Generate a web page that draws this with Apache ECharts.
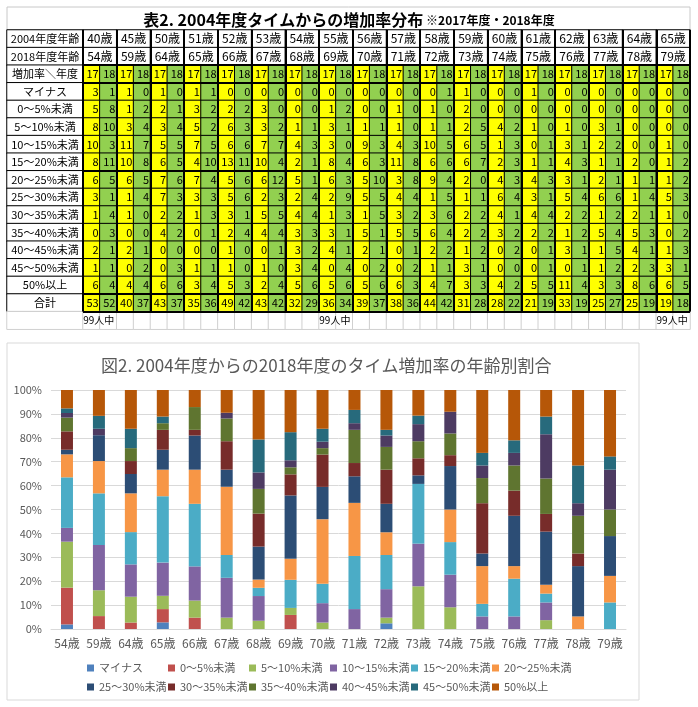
<!DOCTYPE html>
<html>
<head>
<meta charset="utf-8">
<script src="https://cdn.jsdelivr.net/npm/echarts@6/dist/echarts.min.js"></script>
<style>
html, body { margin: 0; padding: 0; background: #fff; }
#main { width: 698px; height: 707px; }
</style>
</head>
<body>
<div id="main"></div>
<script>
// 年齢
const ages2004 = [40, 45, 50, 51, 52, 53, 54, 55, 56, 57, 58, 59, 60, 61, 62, 63, 64, 65]
const ages2018 = [54, 59, 64, 65, 66, 67, 68, 69, 70, 71, 72, 73, 74, 75, 76, 77, 78, 79]
const years = ['17', '18']
const ranges = ['マイナス', '0〜5%未満', '5〜10%未満', '10〜15%未満', '15〜20%未満', '20〜25%未満',
    '25〜30%未満', '30〜35%未満', '35〜40%未満', '40〜45%未満', '45〜50%未満', '50%以上']
const yTicks = [0, 10, 20, 30, 40, 50, 60, 70, 80, 90, 100]

// 人数 2017年度 (行=増加率, 列=年齢)
const count17 = [
    [3, 1, 1, 1, 0, 0, 0, 0, 0, 0, 0, 1, 0, 1, 0, 0, 0, 0],
    [5, 1, 2, 3, 2, 3, 0, 1, 0, 1, 1, 2, 0, 0, 0, 0, 0, 0],
    [8, 3, 3, 5, 6, 3, 1, 3, 1, 1, 1, 2, 4, 1, 1, 3, 0, 0],
    [10, 11, 5, 7, 6, 7, 4, 3, 9, 4, 10, 6, 1, 0, 3, 2, 0, 1],
    [8, 10, 6, 4, 13, 10, 2, 8, 6, 11, 6, 6, 2, 1, 4, 1, 2, 1],
    [6, 6, 7, 7, 5, 6, 5, 6, 5, 3, 9, 2, 4, 4, 3, 2, 1, 1],
    [3, 1, 7, 3, 5, 2, 2, 2, 5, 4, 1, 1, 6, 3, 5, 6, 1, 5],
    [1, 1, 2, 1, 3, 5, 4, 1, 1, 3, 3, 2, 4, 4, 2, 1, 2, 1],
    [0, 0, 4, 0, 2, 4, 3, 3, 5, 5, 6, 2, 3, 2, 1, 5, 5, 0],
    [2, 2, 0, 0, 1, 0, 3, 4, 2, 0, 2, 1, 0, 0, 3, 1, 4, 1],
    [1, 0, 0, 1, 1, 1, 3, 0, 0, 0, 1, 3, 0, 0, 0, 1, 2, 3],
    [6, 4, 6, 3, 5, 2, 5, 5, 5, 6, 4, 3, 4, 5, 11, 3, 8, 6],
]
// 人数 2018年度
const count18 = [
    [1, 0, 0, 1, 0, 0, 0, 0, 0, 0, 1, 0, 0, 0, 0, 0, 0, 0],
    [8, 2, 1, 2, 2, 0, 0, 2, 0, 0, 0, 0, 0, 0, 0, 0, 0, 0],
    [10, 4, 4, 2, 3, 2, 1, 1, 1, 0, 1, 5, 2, 0, 0, 1, 0, 0],
    [3, 7, 5, 5, 6, 7, 3, 0, 3, 3, 5, 5, 3, 1, 1, 2, 0, 0],
    [11, 8, 5, 10, 11, 4, 1, 4, 3, 8, 6, 7, 3, 1, 3, 1, 0, 2],
    [5, 5, 6, 4, 6, 12, 1, 3, 10, 8, 4, 0, 3, 3, 1, 1, 1, 2],
    [1, 4, 3, 3, 6, 3, 4, 9, 5, 4, 5, 1, 4, 1, 4, 6, 4, 3],
    [4, 0, 2, 3, 1, 5, 4, 3, 5, 2, 6, 2, 1, 4, 2, 2, 1, 0],
    [3, 0, 2, 1, 4, 4, 3, 1, 1, 5, 4, 2, 2, 2, 2, 4, 3, 2],
    [1, 1, 0, 0, 0, 1, 2, 1, 1, 1, 2, 2, 2, 1, 1, 5, 1, 3],
    [1, 2, 3, 1, 0, 0, 4, 4, 2, 2, 1, 1, 0, 1, 1, 2, 3, 1],
    [4, 4, 6, 4, 3, 4, 6, 6, 6, 3, 7, 3, 2, 5, 4, 3, 6, 5],
]
const noteCols = [0, 14, 34] // 「99人中」の列

const colors = ['#4F81BD', '#C0504D', '#9BBB59', '#8064A2', '#4BACC6', '#F79646',
    '#2C4D75', '#772C2A', '#5F7530', '#4D3B62', '#276A7C', '#B65708']

function sumCols(rows) {
    return rows[0].map((_, a) => rows.reduce((s, r) => s + r[a], 0))
}
const total17 = sumCols(count17)
const total18 = sumCols(count18)

const RH = 17.6
const TOP = 30
const FONT = 'Noto Sans CJK JP'

function hiddenCat(gridIndex, n, inverse) {
    return {
        type: 'category', gridIndex: gridIndex, inverse: !!inverse,
        data: Array.from({ length: n }, (_, i) => i),
        show: false,
    }
}

function lineCat(gridIndex, n, inverse, interval) {
    return {
        type: 'category', gridIndex: gridIndex, inverse: !!inverse, z: 5,
        data: Array.from({ length: n }, (_, i) => i),
        axisLine: { show: false }, axisTick: { show: false }, axisLabel: { show: false },
        splitLine: { show: true, interval: interval, lineStyle: { color: '#000', width: 2 } },
    }
}

function getOptions() {
    // 左の見出し列
    const rowNames = ['2004年度年齢', '2018年度年齢', '増加率＼年度'].concat(ranges.map(r => r.replace('〜', '～')), ['合計', ''])
    const labelData = rowNames.map((n, i) => ({
        value: [0, i, 0], name: n,
        itemStyle: i === rowNames.length - 1 ? { borderColor: '#d0d0d0' } : undefined,
    }))

    // 年齢見出し
    const headData = []
    ages2004.forEach((a, i) => {
        headData.push({ value: [i, 0, 0], name: a + '歳' })
        headData.push({ value: [i, 1, 0], name: ages2018[i] + '歳' })
    })

    // 本体
    const bodyData = []
    ages2018.forEach((_, a) => {
        [count17, count18].forEach((counts, y) => {
            const col = a * 2 + y
            const color = y === 0 ? '#FFFF00' : '#92D050'
            const tot = y === 0 ? total17 : total18
            bodyData.push({ value: [col, 0, +years[y]], itemStyle: { color } })
            counts.forEach((row, r) => {
                bodyData.push({ value: [col, r + 1, row[a]], itemStyle: { color } })
            })
            bodyData.push({ value: [col, 13, tot[a]], itemStyle: { color } })
        })
    })

    const noteData = Array.from({ length: 36 }, (_, c) => ({
        value: [c, 0, 0], name: noteCols.includes(c) ? '99人中' : '',
    }))

    const cellBase = {
        type: 'heatmap',
        emphasis: { disabled: true },
        itemStyle: { color: '#fff', borderColor: '#000', borderWidth: 1 },
        label: { show: true, color: '#000', fontSize: 11, fontFamily: FONT },
    }

    const barSeries = ranges.map((name, r) => ({
        type: 'bar', name: name, stack: 'total',
        xAxisIndex: 4, yAxisIndex: 4,
        barWidth: 12,
        itemStyle: { color: colors[r] },
        data: count18[r].map((v, a) => v / total18[a] * 100),
    }))

    return {
        animation: false,
        textStyle: { fontFamily: FONT },
        title: [
            {
                text: '{a|表2. 2004年度タイムからの増加率分布}{b| ※2017年度・2018年度}',
                left: 'center', top: 7,
                textStyle: {
                    rich: {
                        a: { fontSize: 16, fontWeight: 'bold', color: '#000', fontFamily: FONT },
                        b: { fontSize: 12, fontWeight: 'bold', color: '#000', fontFamily: FONT },
                    },
                },
            },
            {
                text: '図2. 2004年度からの2018年度のタイム増加率の年齢別割合',
                left: 96, top: 352,
                textStyle: { fontSize: 17, fontWeight: 'normal', color: '#595959', fontFamily: FONT },
            },
        ],
        graphic: [
            { type: 'rect', shape: { x: 7, y: 7, width: 683, height: 23 }, style: { fill: 'none', stroke: '#c8c8c8' }, z: -1 },
            { type: 'rect', shape: { x: 7, y: 343, width: 632, height: 357 }, style: { fill: 'none', stroke: '#d9d9d9' }, z: -1 },
        ],
        grid: [
            { left: 7, top: TOP, width: 76, height: 17 * RH },
            { left: 83, top: TOP, width: 607, height: 2 * RH },
            { left: 83, top: TOP + 2 * RH, width: 607, height: 14 * RH },
            { left: 83, top: TOP + 16 * RH, width: 607, height: RH },
            { left: 51, right: 72, top: 390, bottom: 78 },
        ],
        xAxis: [
            hiddenCat(0, 1),
            lineCat(1, 18, false, 0),
            lineCat(2, 36, false, 1),
            hiddenCat(3, 36),
            {
                type: 'category', gridIndex: 4,
                data: ages2018.map(a => a + '歳'),
                axisLine: { lineStyle: { color: '#d9d9d9' } },
                axisTick: { show: false },
                axisLabel: { color: '#595959', fontSize: 12, margin: 8, interval: 0 },
            },
        ],
        yAxis: [
            hiddenCat(0, 17, true),
            hiddenCat(1, 2, true),
            lineCat(2, 14, true, (i) => [0, 1, 6, 13].includes(i)),
            hiddenCat(3, 1, true),
            {
                type: 'value', gridIndex: 4, min: yTicks[0], max: yTicks[yTicks.length - 1], interval: 10,
                axisLine: { show: false }, axisTick: { show: false },
                axisLabel: { color: '#595959', fontSize: 11, formatter: '{value}%', margin: 9 },
                splitLine: { lineStyle: { color: '#d9d9d9' } },
            },
        ],
        legend: {
            left: 82, top: 654, width: 492,
            itemWidth: 7, itemHeight: 7, itemGap: 1, icon: 'rect',
            textStyle: { color: '#595959', fontSize: 11, width: 68, lineHeight: 18, fontFamily: FONT },
            data: ranges,
        },
        series: [
            Object.assign({}, cellBase, {
                xAxisIndex: 0, yAxisIndex: 0, data: labelData,
                label: Object.assign({}, cellBase.label, { formatter: p => p.name }),
            }),
            Object.assign({}, cellBase, {
                xAxisIndex: 1, yAxisIndex: 1, data: headData,
                label: Object.assign({}, cellBase.label, { fontSize: 12, formatter: p => p.name }),
            }),
            Object.assign({}, cellBase, {
                xAxisIndex: 2, yAxisIndex: 2, data: bodyData,
                label: Object.assign({}, cellBase.label, { position: 'insideRight', distance: 2, formatter: p => p.value[2] }),
            }),
            Object.assign({}, cellBase, {
                xAxisIndex: 3, yAxisIndex: 3, data: noteData,
                itemStyle: { color: '#fff', borderColor: '#d0d0d0', borderWidth: 1 },
                label: Object.assign({}, cellBase.label, { fontSize: 10, position: 'insideLeft', distance: 1, formatter: p => p.name }),
            }),
        ].concat(barSeries),
    }
}

function draw() {
    const chart = echarts.init(document.getElementById('main'))
    chart.setOption(getOptions())
}
draw()
</script>
</body>
</html>
